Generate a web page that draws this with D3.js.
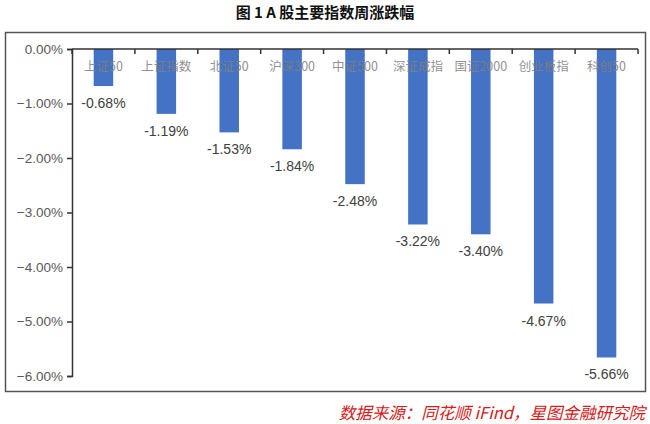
<!DOCTYPE html>
<html lang="zh">
<head>
<meta charset="UTF-8">
<title>A股主要指数周涨跌幅</title>
<script src="https://d3js.org/d3.v7.min.js"></script>
<style>
  body { margin: 0; background: #fff; }
</style>
</head>
<body>
<div id="chart"></div>
<script>
// data
const categories = ["上证50", "上证指数", "北证50", "沪深300", "中证500", "深证成指", "国证2000", "创业板指", "科创50"];
const values = [-0.68, -1.19, -1.53, -1.84, -2.48, -3.22, -3.40, -4.67, -5.66];
const yTicks = [0, -1, -2, -3, -4, -5, -6];

const width = 650, height = 424;

const svg = d3.select("#chart").append("svg")
    .attr("width", width)
    .attr("height", height);

// title
svg.append("text")
    .attr("x", 325).attr("y", 18)
    .attr("text-anchor", "middle")
    .style("font-family", "'Noto Sans CJK SC', sans-serif")
    .style("font-weight", "bold")
    .style("font-size", "15px")
    .style("fill", "#111")
    .text("图 1 A 股主要指数周涨跌幅");

// frame
svg.append("rect")
    .attr("x", 5.5).attr("y", 32.5)
    .attr("width", 640).attr("height", 359)
    .attr("fill", "none")
    .attr("stroke", "#555")
    .attr("stroke-width", 1.5);

const x = d3.scaleBand()
    .domain(categories)
    .range([72, 638])
    .paddingInner(0.69)
    .paddingOuter(0.345);

const xb = d3.scaleBand().domain(categories).range([72, 638]);

const y = d3.scaleLinear()
    .domain([-6, 0])
    .range([376, 49]);

// y axis
const yAxis = svg.append("g")
    .attr("transform", "translate(72,0)")
    .call(d3.axisLeft(y).tickValues(yTicks).tickSize(5).tickPadding(4)
        .tickFormat(d => d3.format(".2f")(d) + "%"));
yAxis.select(".domain").attr("stroke", "#333").attr("stroke-width", 1.5);
yAxis.selectAll(".tick line").attr("stroke", "#333").attr("stroke-width", 1.5);
yAxis.selectAll("text")
    .style("font-family", "'Liberation Sans', Arial, sans-serif")
    .style("font-size", "13.5px")
    .style("fill", "#595959");

// bars
svg.append("g").selectAll("rect")
    .data(values)
    .join("rect")
    .attr("x", (d, i) => x(categories[i]))
    .attr("y", y(0))
    .attr("width", x.bandwidth())
    .attr("height", d => y(d) - y(0))
    .attr("fill", "#4472C4");

// category labels (drawn over the bars)
svg.append("g").selectAll("text")
    .data(categories)
    .join("text")
    .attr("x", d => xb(d) + xb.bandwidth() / 2)
    .attr("y", 71)
    .attr("text-anchor", "middle")
    .style("font-family", "'Noto Sans CJK SC', sans-serif")
    .style("font-size", "12.5px")
    .style("fill", "#808080")
    .style("opacity", 0.85)
    .text(d => d);

// x axis
const xAxis = svg.append("g")
    .attr("transform", "translate(0," + y(0) + ")");
xAxis.append("line")
    .attr("x1", 72).attr("x2", 638)
    .attr("stroke", "#333").attr("stroke-width", 1.5);
xAxis.selectAll(".tk")
    .data(categories.map(c => xb(c) + xb.bandwidth()).concat([72]))
    .join("line")
    .attr("class", "tk")
    .attr("x1", d => d).attr("x2", d => d)
    .attr("y1", 0).attr("y2", 5)
    .attr("stroke", "#333").attr("stroke-width", 1.5);

// value labels
svg.append("g").selectAll("text")
    .data(values)
    .join("text")
    .attr("x", (d, i) => xb(categories[i]) + xb.bandwidth() / 2)
    .attr("y", d => y(d) + 22)
    .attr("text-anchor", "middle")
    .style("font-family", "'Liberation Sans', Arial, sans-serif")
    .style("font-size", "14px")
    .style("fill", "#404040")
    .text(d => d.toFixed(2) + "%");

// source note
svg.append("text")
    .attr("x", 645).attr("y", 419)
    .attr("text-anchor", "end")
    .style("font-family", "'Noto Sans CJK SC', serif")
    .style("font-style", "italic")
    .style("font-size", "16.5px")
    .style("fill", "#d42020")
    .text("数据来源：同花顺 iFind，星图金融研究院");
</script>
</body>
</html>
